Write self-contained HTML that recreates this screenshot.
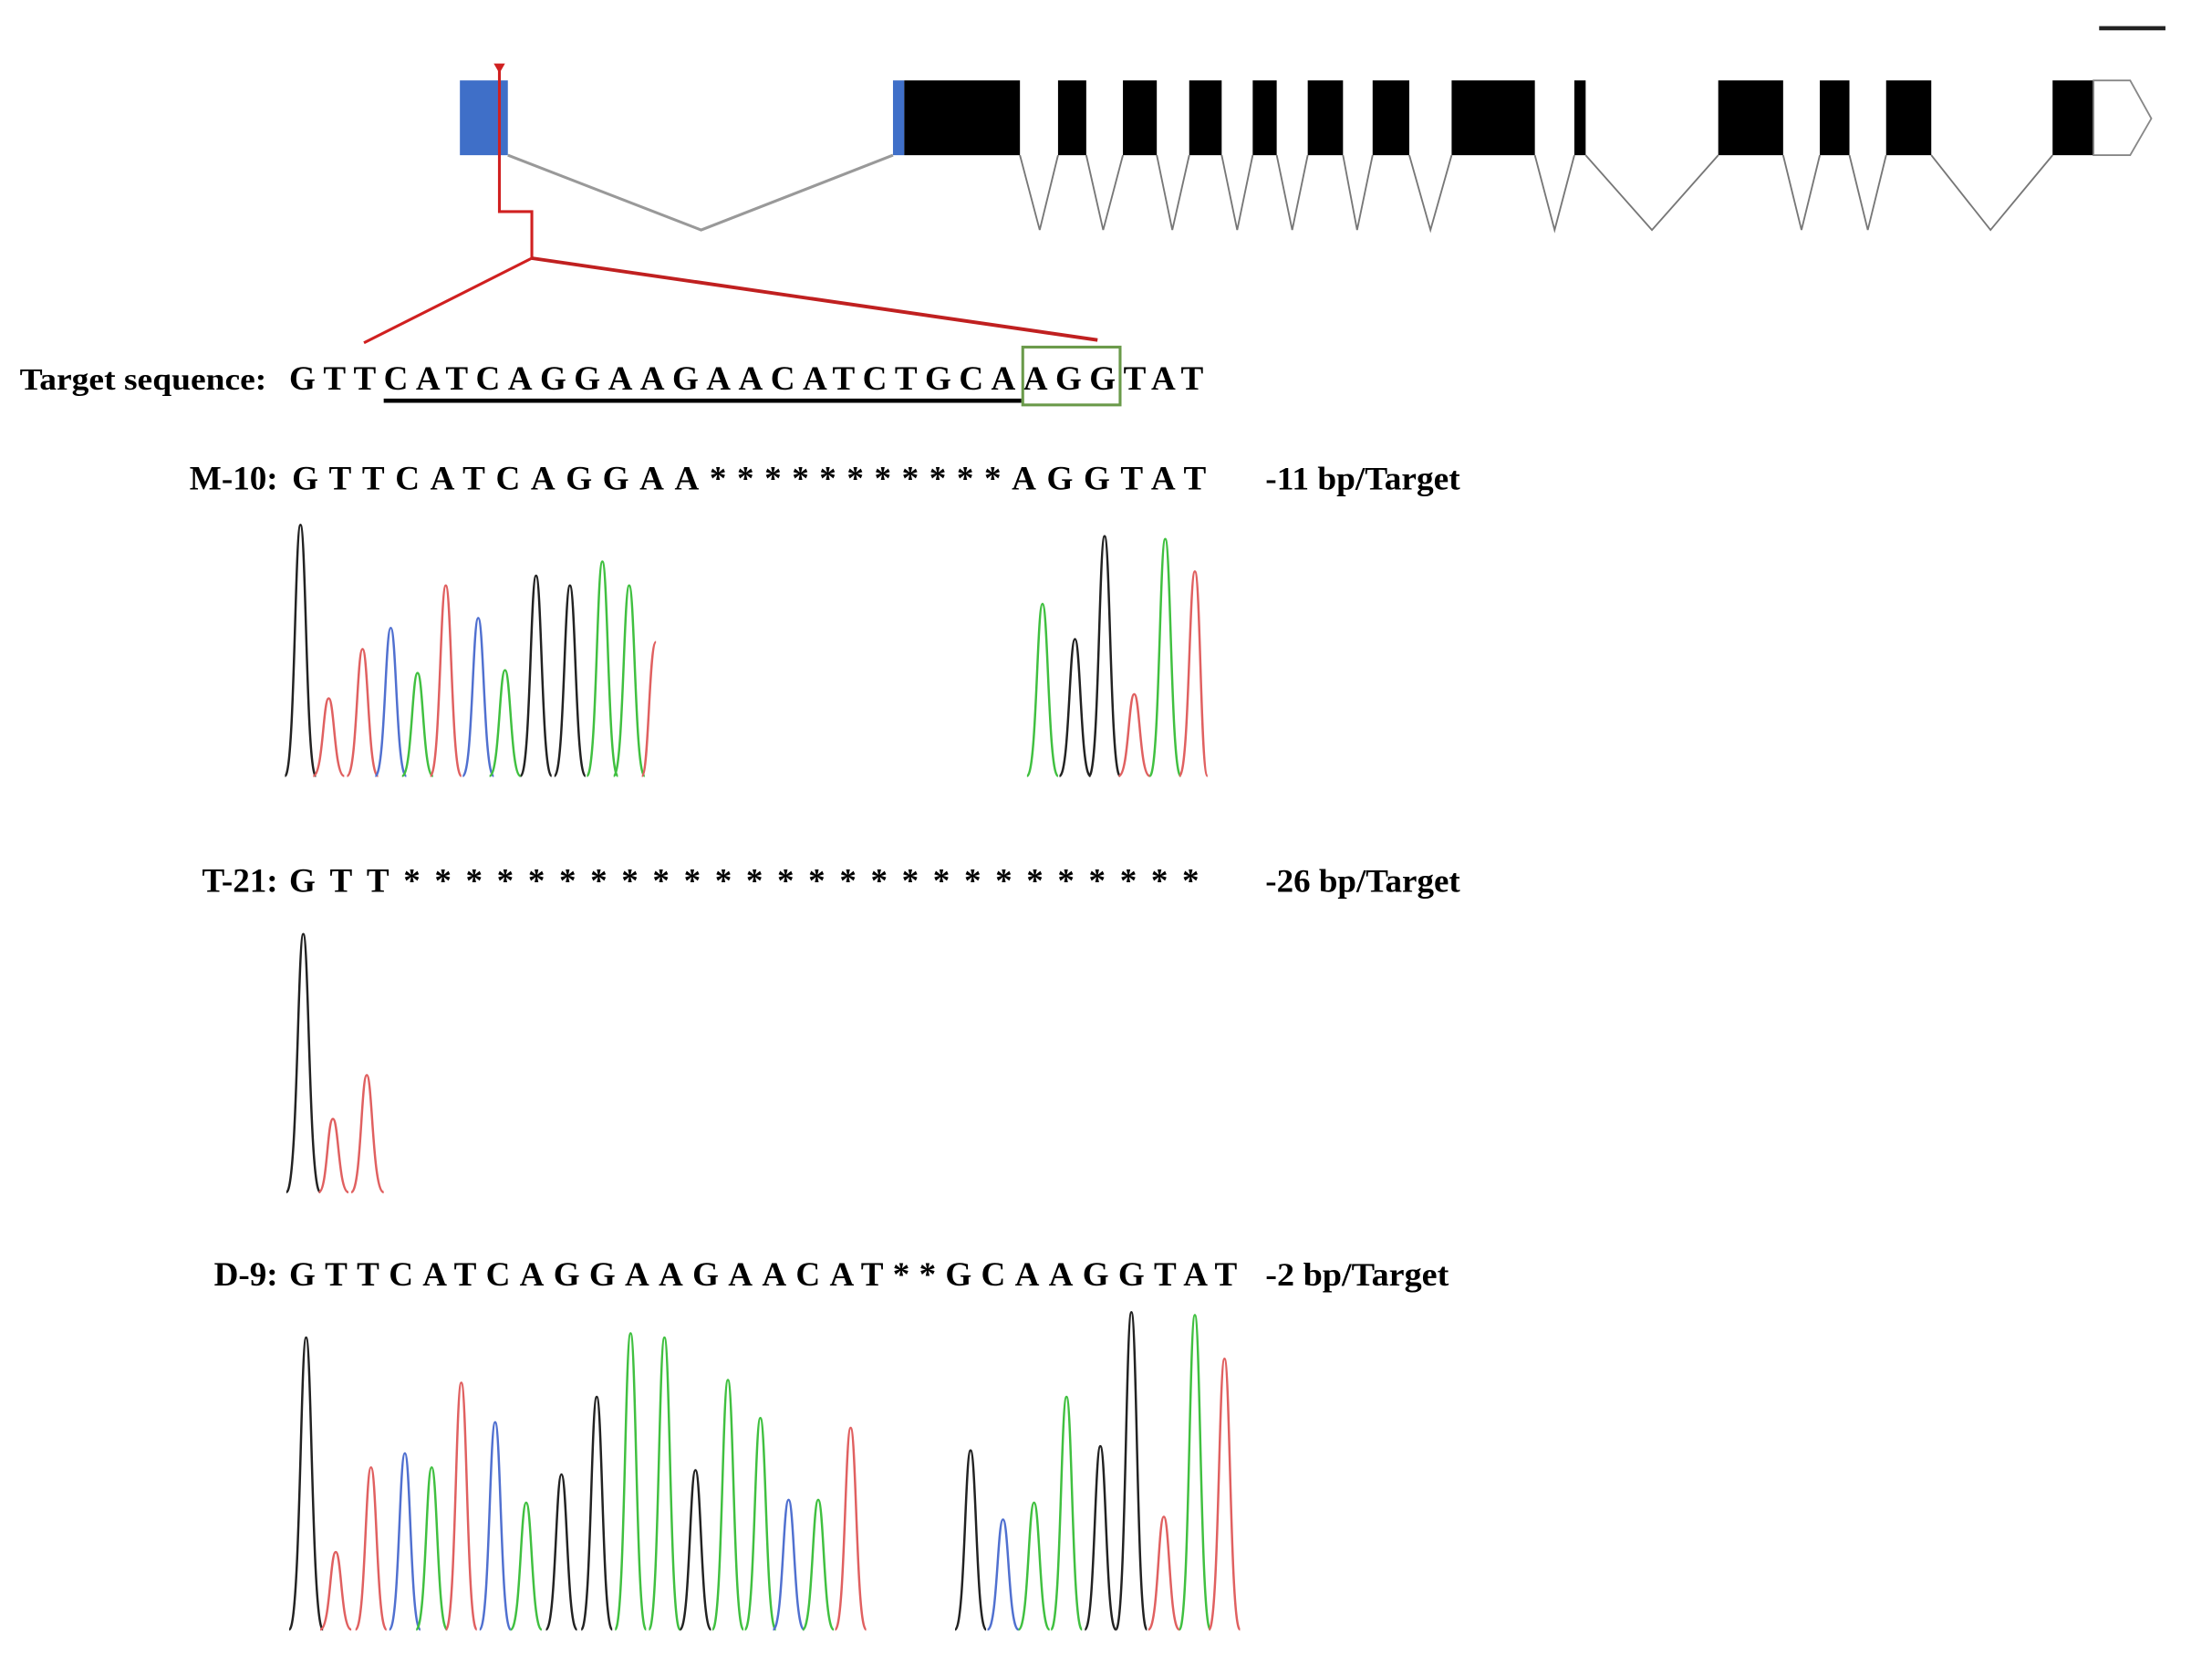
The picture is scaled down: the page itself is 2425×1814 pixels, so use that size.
<!DOCTYPE html>
<html><head><meta charset="utf-8"><style>html,body{margin:0;padding:0;background:#fff}svg{display:block}</style></head>
<body>
<svg width="2425" height="1814" viewBox="0 0 1568 1173" preserveAspectRatio="none" xmlns="http://www.w3.org/2000/svg" font-family="Liberation Serif, serif" font-weight="bold">
<rect width="1568" height="1173" fill="#fff"/>
<line x1="1488" y1="20" x2="1535" y2="20" stroke="#222" stroke-width="3"/>
<polyline points="360,110 497,163 633,110" fill="none" stroke="#999" stroke-width="2"/>
<g fill="none" stroke="#777" stroke-width="1.2">
<polyline points="723,110 737,163 750,110"/><polyline points="770,110 782,163 796,110"/>
<polyline points="820,110 831,163 843,110"/><polyline points="866,110 877,163 888,110"/>
<polyline points="905,110 916,163 927,110"/><polyline points="952,110 962,163 973,110"/>
<polyline points="999,110 1014,163 1029,110"/><polyline points="1088,110 1102,163 1116,110"/>
<polyline points="1124,110 1171,163 1218,110"/><polyline points="1264,110 1277,163 1290,110"/>
<polyline points="1311,110 1324,163 1337,110"/><polyline points="1369,110 1411,163 1455,110"/>
</g>
<rect x="326" y="57" width="34" height="53" fill="#3f6fc8"/>
<rect x="633" y="57" width="8" height="53" fill="#3f6fc8"/>
<g fill="#000">
<rect x="641" y="57" width="82" height="53"/><rect x="750" y="57" width="20" height="53"/>
<rect x="796" y="57" width="24" height="53"/><rect x="843" y="57" width="23" height="53"/>
<rect x="888" y="57" width="17" height="53"/><rect x="927" y="57" width="25" height="53"/>
<rect x="973" y="57" width="26" height="53"/><rect x="1029" y="57" width="59" height="53"/>
<rect x="1116" y="57" width="8" height="53"/><rect x="1218" y="57" width="46" height="53"/>
<rect x="1290" y="57" width="21" height="53"/><rect x="1337" y="57" width="32" height="53"/>
<rect x="1455" y="57" width="29" height="53"/>
</g>
<polygon points="1484,57 1510,57 1525,84 1510,110 1484,110" fill="#fff" stroke="#888" stroke-width="1.2"/>
<polyline points="354,47 354,150 377,150 377,183" fill="none" stroke="#d02020" stroke-width="2"/>
<polygon points="350,45 358,45 354,52" fill="#d02020"/>
<line x1="377" y1="183" x2="258" y2="243" stroke="#d02020" stroke-width="2"/>
<line x1="377" y1="183" x2="778" y2="241" stroke="#c02020" stroke-width="2.5"/>
<text x="14" y="276" font-size="22" textLength="175" lengthAdjust="spacingAndGlyphs">Target sequence:</text>
<text x="205" y="276" font-size="24" textLength="648" lengthAdjust="spacing">GTTCATCAGGAAGAACATCTGCAAGGTAT</text>
<line x1="272" y1="284" x2="724" y2="284" stroke="#000" stroke-width="3"/>
<rect x="725" y="246" width="69" height="41" fill="none" stroke="#6a9a4a" stroke-width="2"/>
<text x="197" y="347" font-size="24" text-anchor="end">M-10:</text>
<text x="207" y="347" font-size="24" textLength="648" lengthAdjust="spacing">GTTCATCAGGAA***********AGGTAT</text>
<text x="897" y="347" font-size="23" textLength="138" lengthAdjust="spacingAndGlyphs">-11 bp/Target</text>
<text x="197" y="632" font-size="24" text-anchor="end">T-21:</text>
<text x="205" y="632" font-size="24" textLength="645" lengthAdjust="spacing">GTT**************************</text>
<text x="897" y="632" font-size="23" textLength="138" lengthAdjust="spacingAndGlyphs">-26 bp/Target</text>
<text x="197" y="911" font-size="24" text-anchor="end">D-9:</text>
<text x="205" y="911" font-size="24" textLength="672" lengthAdjust="spacing">GTTCATCAGGAAGAACAT**GCAAGGTAT</text>
<text x="897" y="911" font-size="23" textLength="130" lengthAdjust="spacingAndGlyphs">-2 bp/Target</text>
<g fill="none" stroke-width="1.6">
<path stroke="#222" d="M202,550 C209,550 209,372 213,372 C217,372 217,550 224,550"/>
<path stroke="#e06060" d="M222,550 C229,550 229,495 233,495 C237,495 237,550 244,550"/>
<path stroke="#e06060" d="M246,550 C253,550 253,460 257,460 C261,460 261,550 268,550"/>
<path stroke="#5070d0" d="M266,550 C273,550 273,445 277,445 C281,445 281,550 288,550"/>
<path stroke="#40c040" d="M285,550 C292,550 292,477 296,477 C300,477 300,550 307,550"/>
<path stroke="#e06060" d="M305,550 C312,550 312,415 316,415 C320,415 320,550 327,550"/>
<path stroke="#5070d0" d="M328,550 C335,550 335,438 339,438 C343,438 343,550 350,550"/>
<path stroke="#40c040" d="M347,550 C354,550 354,475 358,475 C362,475 362,550 369,550"/>
<path stroke="#222" d="M369,550 C376,550 376,408 380,408 C384,408 384,550 391,550"/>
<path stroke="#222" d="M393,550 C400,550 400,415 404,415 C408,415 408,550 415,550"/>
<path stroke="#40c040" d="M416,550 C423,550 423,398 427,398 C431,398 431,550 438,550"/>
<path stroke="#40c040" d="M435,550 C442,550 442,415 446,415 C450,415 450,550 457,550"/>
<path stroke="#e06060" d="M455,550 C460,550 460,455 465,455"/>
<path stroke="#40c040" d="M728,550 C735,550 735,428 739,428 C743,428 743,550 750,550"/>
<path stroke="#222" d="M751,550 C758,550 758,453 762,453 C766,453 766,550 773,550"/>
<path stroke="#222" d="M772,550 C779,550 779,380 783,380 C787,380 787,550 794,550"/>
<path stroke="#e06060" d="M793,550 C800,550 800,492 804,492 C808,492 808,550 815,550"/>
<path stroke="#40c040" d="M815,550 C822,550 822,382 826,382 C830,382 830,550 837,550"/>
<path stroke="#e06060" d="M836,550 C843,550 843,405 847,405 C851,405 851,550 856,550"/>
<path stroke="#222" d="M203,845 C211,845 211,662 215,662 C219,662 219,845 227,845"/>
<path stroke="#e06060" d="M226,845 C232,845 232,793 236,793 C240,793 240,845 247,845"/>
<path stroke="#e06060" d="M249,845 C256,845 256,762 260,762 C264,762 264,845 272,845"/>
<path stroke="#222" d="M205,1155 C213,1155 213,948 217,948 C221,948 221,1155 229,1155"/>
<path stroke="#e06060" d="M227,1155 C234,1155 234,1100 238,1100 C242,1100 242,1155 249,1155"/>
<path stroke="#e06060" d="M252,1155 C259,1155 259,1040 263,1040 C267,1040 267,1155 274,1155"/>
<path stroke="#5070d0" d="M276,1155 C283,1155 283,1030 287,1030 C291,1030 291,1155 298,1155"/>
<path stroke="#40c040" d="M295,1155 C302,1155 302,1040 306,1040 C310,1040 310,1155 317,1155"/>
<path stroke="#e06060" d="M316,1155 C323,1155 323,980 327,980 C331,980 331,1155 338,1155"/>
<path stroke="#5070d0" d="M340,1155 C347,1155 347,1008 351,1008 C355,1008 355,1155 362,1155"/>
<path stroke="#40c040" d="M362,1155 C369,1155 369,1065 373,1065 C377,1065 377,1155 384,1155"/>
<path stroke="#222" d="M387,1155 C394,1155 394,1045 398,1045 C402,1045 402,1155 409,1155"/>
<path stroke="#222" d="M412,1155 C419,1155 419,990 423,990 C427,990 427,1155 434,1155"/>
<path stroke="#40c040" d="M436,1155 C443,1155 443,945 447,945 C451,945 451,1155 458,1155"/>
<path stroke="#40c040" d="M460,1155 C467,1155 467,948 471,948 C475,948 475,1155 482,1155"/>
<path stroke="#222" d="M482,1155 C489,1155 489,1042 493,1042 C497,1042 497,1155 504,1155"/>
<path stroke="#40c040" d="M505,1155 C512,1155 512,978 516,978 C520,978 520,1155 527,1155"/>
<path stroke="#40c040" d="M528,1155 C535,1155 535,1005 539,1005 C543,1005 543,1155 550,1155"/>
<path stroke="#5070d0" d="M548,1155 C555,1155 555,1063 559,1063 C563,1063 563,1155 570,1155"/>
<path stroke="#40c040" d="M569,1155 C576,1155 576,1063 580,1063 C584,1063 584,1155 591,1155"/>
<path stroke="#e06060" d="M592,1155 C599,1155 599,1012 603,1012 C607,1012 607,1155 614,1155"/>
<path stroke="#222" d="M677,1155 C684,1155 684,1028 688,1028 C692,1028 692,1155 699,1155"/>
<path stroke="#5070d0" d="M700,1155 C707,1155 707,1077 711,1077 C715,1077 715,1155 722,1155"/>
<path stroke="#40c040" d="M722,1155 C729,1155 729,1065 733,1065 C737,1065 737,1155 744,1155"/>
<path stroke="#40c040" d="M745,1155 C752,1155 752,990 756,990 C760,990 760,1155 767,1155"/>
<path stroke="#222" d="M769,1155 C776,1155 776,1025 780,1025 C784,1025 784,1155 791,1155"/>
<path stroke="#222" d="M791,1155 C798,1155 798,930 802,930 C806,930 806,1155 813,1155"/>
<path stroke="#e06060" d="M814,1155 C821,1155 821,1075 825,1075 C829,1075 829,1155 836,1155"/>
<path stroke="#40c040" d="M836,1155 C843,1155 843,932 847,932 C851,932 851,1155 858,1155"/>
<path stroke="#e06060" d="M857,1155 C864,1155 864,963 868,963 C872,963 872,1155 879,1155"/>
</g>
</svg>
</body></html>
